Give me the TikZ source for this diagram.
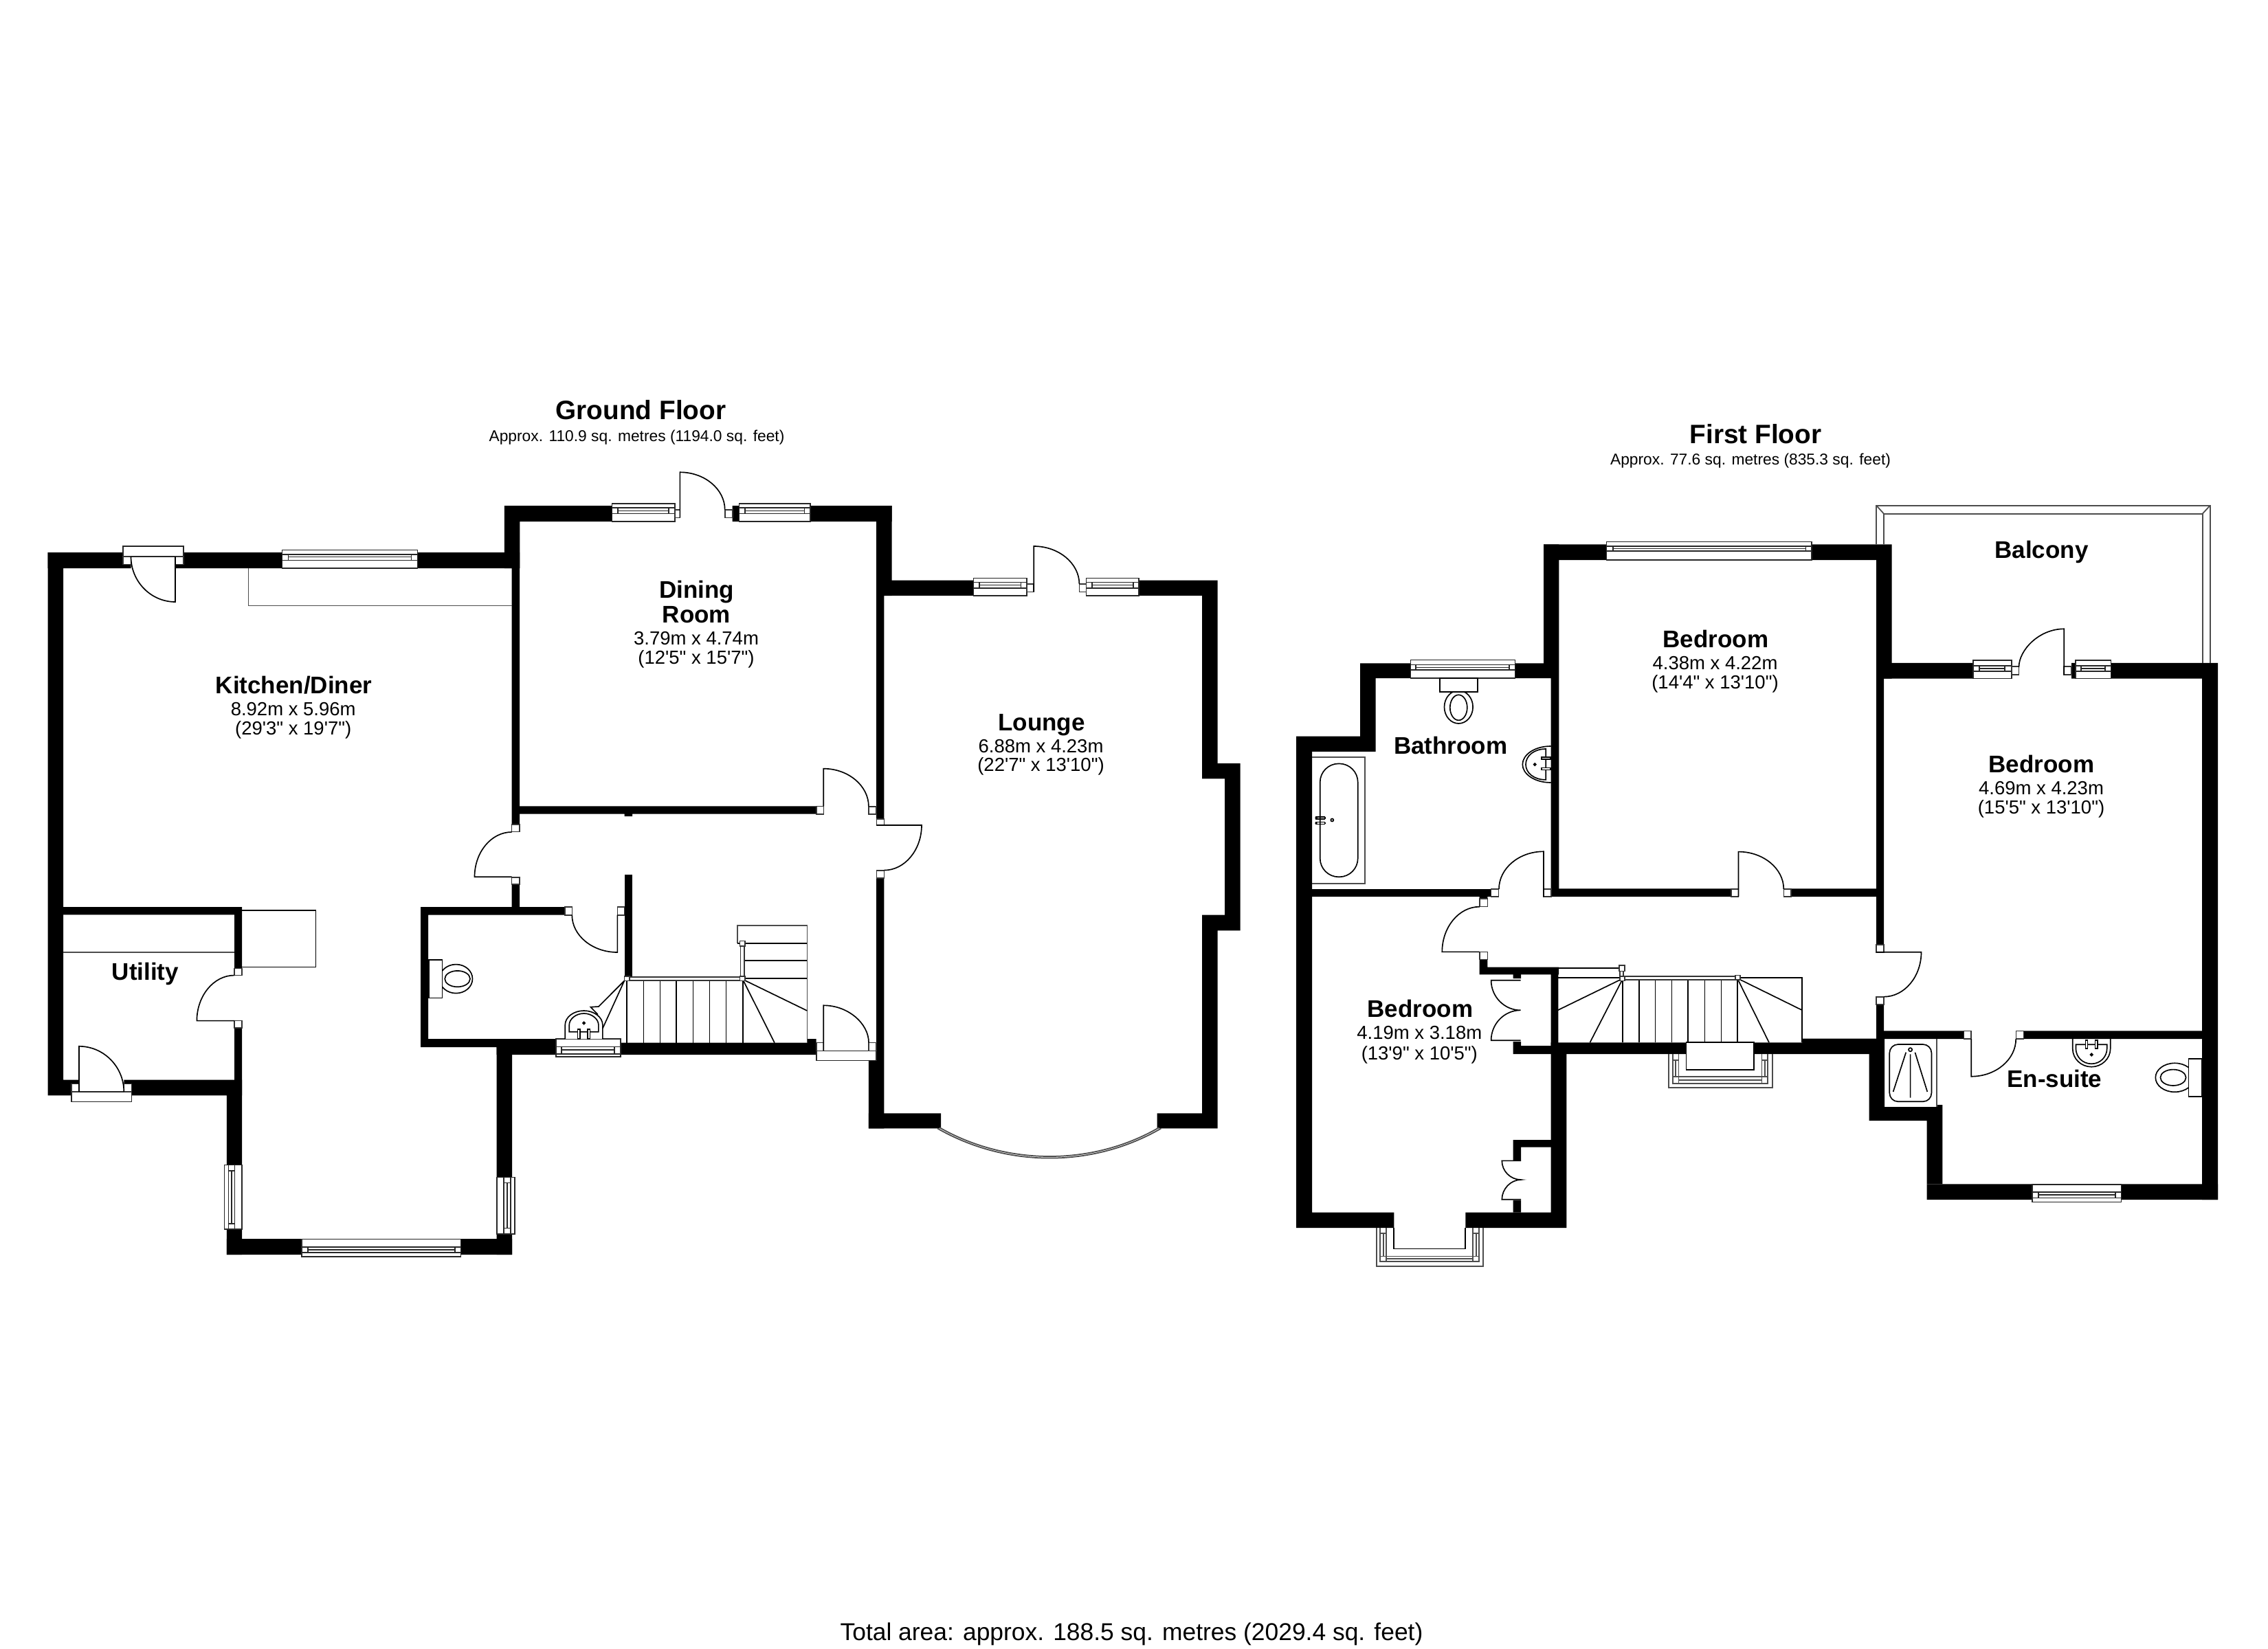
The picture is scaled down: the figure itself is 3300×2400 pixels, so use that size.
\documentclass[tikz,border=0pt]{standalone}
\usepackage{fontspec}
\newfontfamily\planfont{Liberation Sans}
\tikzset{
	wall/.style={fill=black,draw=none},
	jamb/.style={fill=white,draw=black!80,line width=0.38pt},
	glazing/.style={fill=white,draw=black!85,line width=0.38pt},
	leaf/.style={draw=black,line width=0.4pt},
	fitting/.style={fill=white,draw=black,line width=0.4pt},
	outline/.style={draw=black!70,line width=0.42pt},
	roomname/.style={anchor=base,inner sep=0pt,font=\planfont\fontsize{8.4}{10}\selectfont\bfseries},
	roomsize/.style={anchor=base,inner sep=0pt,font=\planfont\fontsize{6.6}{8}\selectfont},
	floorname/.style={anchor=base,inner sep=0pt,font=\planfont\fontsize{9.3}{11}\selectfont\bfseries},
	floorarea/.style={anchor=base,inner sep=0pt,font=\planfont\fontsize{5.47}{7}\selectfont},
	totalarea/.style={anchor=base,inner sep=0pt,font=\planfont\fontsize{8.5}{10}\selectfont}
}
\begin{document}
\begin{tikzpicture}[x=0.24pt,y=0.24pt,yscale=-1,xscale=1]
	\useasboundingbox (0,0) rectangle (3300,2400);

	%Ground floor: walls
	\fill [wall] (69.6,804) rectangle (190.5,827) (255,804) rectangle (410.4,827) (607.3,804) rectangle (756,827);
	\fill [wall] (69.6,804) rectangle (92,1594.4) (92,1571.5) rectangle (115,1594.4);
	\fill [wall] (733.9,736) rectangle (890.6,759) (733.9,736) rectangle (756.3,827);
	\fill [wall] (1178.8,736) rectangle (1297.6,759) (1065.7,736) rectangle (1075.5,759);
	\fill [wall] (744.6,827) rectangle (756,1200) (744.6,1286.8) rectangle (756,1320);
	\fill [wall] (756,1173.3) rectangle (1188.2,1184.7) (908.5,1184.7) rectangle (920,1188);
	\fill [wall] (908.5,1273.3) rectangle (920,1421);
	\fill [wall] (92,1320) rectangle (352.2,1331.4) (341,1320) rectangle (352.2,1409.4) (341,1496) rectangle (352.2,1594.4);
	\fill [wall] (180.3,1571.5) rectangle (352.2,1594.4) (329.8,1594.4) rectangle (352.2,1695.4) (329.8,1789) rectangle (352.2,1826);
	\fill [wall] (329.8,1803) rectangle (439,1826) (670.6,1803) rectangle (745,1826);
	\fill [wall] (722.7,1512) rectangle (745,1713.4) (722.7,1796) rectangle (745,1826);
	\fill [wall] (612,1320) rectangle (821.8,1331.7) (612,1320) rectangle (623,1524) (612,1512) rectangle (809,1524) (722.6,1512) rectangle (809,1535);
	\fill [wall] (903,1517.7) rectangle (1187.7,1535) (1174,1512) rectangle (1187.7,1517.7);
	\fill [wall] (1275,736) rectangle (1297.6,867) (1275,867) rectangle (1286.4,1191.7) (1275,1278) rectangle (1286.4,1543) (1263.8,1543) rectangle (1286.4,1642.4);
	\fill [wall] (1286,844.7) rectangle (1416.5,866.8) (1263.8,1620.3) rectangle (1369,1642.4);
	\fill [wall] (1656.9,844.7) -- (1771.7,844.7) -- (1771.7,1111.2) -- (1804.6,1111.2) -- (1804.6,1354.4) -- (1771.7,1354.4) -- (1771.7,1642.4) -- (1683.6,1642.4) -- (1683.6,1620.3) -- (1749,1620.3) -- (1749,1331.6) -- (1782,1331.6) -- (1782,1133.4) -- (1749,1133.4) -- (1749,866.8) -- (1656.9,866.8) -- cycle;

	%Ground floor: windows
	\draw [glazing] (410.4,800.3) rectangle (607.3,826.8) (410.4,806.8) -- (607.3,806.8) (410.4,815.3) -- (607.3,815.3) (419.6,806.8) -- (419.6,815.3) (598.7,806.8) -- (598.7,815.3) (419.6,810.5) -- (598.7,810.5);
	\draw [glazing] (326.7,1695.4) rectangle (352.2,1789.1) (332.3,1695.4) -- (332.3,1789.1) (341.5,1695.4) -- (341.5,1789.1) (332.3,1703.7) -- (341.5,1703.7) (332.3,1780.8) -- (341.5,1780.8) (337,1703.7) -- (337,1780.8);
	\draw [glazing] (439,1803.4) rectangle (670.6,1829) (439,1815) -- (670.6,1815) (439,1823) -- (670.6,1823) (448,1815) -- (448,1823) (662,1815) -- (662,1823) (448,1819) -- (662,1819);
	\draw [glazing] (722.7,1713.4) rectangle (748.7,1796) (732.8,1713.4) -- (732.8,1796) (743,1713.4) -- (743,1796) (732.8,1721.6) -- (743,1721.6) (732.8,1787.3) -- (743,1787.3) (738,1721.6) -- (738,1787.3);
	\draw [glazing] (809,1512) rectangle (903,1538) (809,1523.3) -- (903,1523.3) (809,1534) -- (903,1534) (817.2,1523.3) -- (817.2,1534) (893.8,1523.3) -- (893.8,1534) (817.2,1528) -- (893.8,1528);
	\draw [glazing] (890.6,733) rectangle (982,759) (890.6,739) -- (982,739) (890.6,747.7) -- (982,747.7) (899.2,739) -- (899.2,747.7) (973,739) -- (973,747.7) (899.2,743.3) -- (973,743.3);
	\draw [glazing] (1075.5,733) rectangle (1178.8,759) (1075.5,739) -- (1178.8,739) (1075.5,747.7) -- (1178.8,747.7) (1084,739) -- (1084,747.7) (1170.6,739) -- (1170.6,747.7) (1084,743.3) -- (1170.6,743.3);
	\draw [glazing] (1416.5,841.3) rectangle (1493.8,866.8) (1416.5,847.4) -- (1493.8,847.4) (1416.5,856) -- (1493.8,856) (1425,847.4) -- (1425,856) (1485.4,847.4) -- (1485.4,856) (1425,851.5) -- (1485.4,851.5);
	\draw [glazing] (1580.3,841.3) rectangle (1656.9,866.8) (1580.3,847.4) -- (1656.9,847.4) (1580.3,856) -- (1656.9,856) (1589,847.4) -- (1589,856) (1648.8,847.4) -- (1648.8,856) (1589,851.5) -- (1648.8,851.5);
	%Curve Lines: bow window
	\draw [outline] (1364,1642.4) .. controls (1465,1700) and (1590,1700) .. (1689.4,1642.4);
	\draw [outline] (1367,1641) .. controls (1465,1697) and (1590,1697) .. (1686.4,1641);

	%Ground floor: doors
	\draw [glazing] (179,795) rectangle (267,810);
	\draw [jamb] (179,810) rectangle (190.5,821.4);
	\draw [jamb] (255,810) rectangle (267,821.4);
	\draw [leaf] (255,810) -- (255,876) .. controls (219.5,876) and (190.5,846.3) .. (190.5,810);
	\draw [jamb] (341,1409.4) rectangle (352.2,1419.5);
	\draw [jamb] (341,1485.6) rectangle (352.2,1496.2);
	\draw [leaf] (341,1419.5) .. controls (311,1419.5) and (286.4,1449.3) .. (286.4,1485.6) -- (341,1485.6);
	\draw [glazing] (103.8,1589) rectangle (191.5,1603.6);
	\draw [jamb] (103.8,1577.5) rectangle (115,1589);
	\draw [jamb] (180.3,1577.5) rectangle (191.5,1589);
	\draw [leaf] (115,1589) -- (115,1522.8) .. controls (150.9,1522.8) and (180.3,1552.6) .. (180.3,1589);
	\draw [jamb] (744.6,1200) rectangle (756,1210.6);
	\draw [jamb] (744.6,1276.7) rectangle (756,1286.8);
	\draw [leaf] (744.6,1211) .. controls (714.8,1211) and (690.5,1240.3) .. (690.5,1276.3) -- (744.6,1276.3);
	\draw [jamb] (821.8,1320) rectangle (832.3,1331.7);
	\draw [jamb] (898.4,1320) rectangle (908.5,1331.7);
	\draw [leaf] (832.3,1331.7) .. controls (832.3,1361.6) and (862,1386) .. (898.4,1386) -- (898.4,1331.7);
	\draw [jamb] (1188.2,1173.3) rectangle (1198.3,1184.7);
	\draw [jamb] (1264,1173.7) rectangle (1275,1184.7);
	\draw [leaf] (1198.3,1173.3) -- (1198.3,1118.7) .. controls (1234.4,1118.7) and (1263.9,1143.8) .. (1263.9,1173.7);
	\draw [jamb] (1275.3,1191.7) rectangle (1286.4,1201);
	\draw [jamb] (1275.3,1267) rectangle (1286.4,1278);
	\draw [leaf] (1275.3,1201) -- (1341,1201) .. controls (1341,1237) and (1316.4,1266.6) .. (1286.4,1266.6);
	\draw [glazing] (1187.7,1529.3) rectangle (1275,1543.3);
	\draw [jamb] (1187.7,1517.3) rectangle (1198.3,1529.3);
	\draw [jamb] (1264,1517.3) rectangle (1275,1529.3);
	\draw [leaf] (1198.3,1529.3) -- (1198.3,1463.3) .. controls (1234.4,1463.3) and (1264,1490) .. (1264,1517.3);
	\draw [jamb] (982,742) rectangle (989.4,753.3);
	\draw [jamb] (1054.7,742) rectangle (1065.7,753.3);
	\draw [leaf] (989.4,753.3) -- (989.4,687.3) .. controls (1025.3,687.3) and (1054.7,712) .. (1054.7,742);
	\draw [jamb] (1493.8,850) rectangle (1504.2,861.4);
	\draw [jamb] (1570.4,850) rectangle (1580.3,861.4);
	\draw [leaf] (1504.2,861.4) -- (1504.2,795) .. controls (1540.6,795) and (1570.4,820) .. (1570.4,850);

	%Ground floor: fitted units
	\draw [outline] (361.4,827) -- (361.4,881.5) -- (744.6,881.5);
	\draw [outline] (92,1386) -- (341,1386);
	\draw [leaf] (352.2,1325) -- (459.4,1325) -- (459.4,1407.6) -- (352.2,1407.6);

	%Ground floor: stairs
	\draw [leaf] (912.2,1426.7) -- (912.2,1517.7) (936.5,1426.7) -- (936.5,1517.7) (960.4,1426.7) -- (960.4,1517.7) (984.3,1426.7) -- (984.3,1517.7) (1008.6,1426.7) -- (1008.6,1517.7) (1032.5,1426.7) -- (1032.5,1517.7) (1056.4,1426.7) -- (1056.4,1517.7) (1080.7,1426.7) -- (1080.7,1517.7);
	\draw [outline] (1073,1372.7) -- (1073,1346.7) -- (1174.4,1346.7) -- (1174.4,1517.7);
	\draw [leaf] (1073,1372.7) -- (1174.4,1372.7) (1083,1398.3) -- (1174.4,1398.3) (1083,1423.7) -- (1174.4,1423.7);
	\draw [leaf] (1084,1427) -- (1174.4,1471) (1082,1428) -- (1127,1517.7);
	\draw [leaf] (908.5,1427.3) -- (871,1465) -- (859.4,1465.7) -- (870,1476.7) (908.5,1427.3) -- (876.9,1496.7);
	\draw [jamb] (912,1421.7) rectangle (1080,1426.7);
	\draw [jamb] (1077.5,1376) rectangle (1083,1421.7);
	\draw [jamb] (908.5,1421) rectangle (916,1427.3);
	\draw [jamb] (1076.6,1421) rectangle (1084,1427.3);
	\draw [jamb] (1076.6,1369.3) rectangle (1084,1376.7);

	%Ground floor: cloakroom
	\draw [fitting] (663.5,1424.6) ellipse [x radius=24,y radius=21];
	\draw [fitting] (665.6,1424.6) ellipse [x radius=18.4,y radius=11.7];
	\draw [fitting] (623.7,1397) rectangle (643.6,1452.6);
	\draw [fitting] (822.2,1512) -- (822.2,1492) .. controls (822.2,1480) and (835,1471) .. (849.6,1471) .. controls (864,1471) and (876.9,1480) .. (876.9,1492) -- (876.9,1512);
	\draw [leaf] (828.2,1501.7) -- (828.2,1492) .. controls (828.2,1483) and (838,1475) .. (849.6,1475) .. controls (861,1475) and (870.9,1483) .. (870.9,1492) -- (870.9,1501.7) -- cycle;
	\draw [fitting] (840.6,1498) rectangle (844.3,1511.7);
	\draw [fitting] (854.8,1498) rectangle (858.5,1511.7);
	\draw [leaf] (849.6,1489) circle [radius=1.6];

	%First floor: walls
	\fill [wall] (1979,965.3) -- (2052.3,965.3) -- (2052.3,987) -- (2001.7,987) -- (2001.7,1093.8) -- (1909,1093.8) -- (1909,1764.5) -- (2028.3,1764.5) -- (2028.3,1787) -- (1886,1787) -- (1886,1071.5) -- (1979,1071.5) -- cycle;
	\fill [wall] (2132.3,1764.5) rectangle (2279.3,1787) (2256.7,1522) rectangle (2279.3,1787);
	\fill [wall] (2201.7,1522) rectangle (2279.3,1534) (2201.7,1516) rectangle (2213,1534) (2201.7,1418) rectangle (2213,1424);
	\fill [wall] (2256.7,1407.7) rectangle (2267.4,1525) (2152.7,1396) rectangle (2164.3,1418.3) (2152.7,1407.7) rectangle (2268,1418.3);
	\fill [wall] (1909,1294) rectangle (2169.3,1305) (2152.7,1305) rectangle (2164.3,1308);
	\fill [wall] (2201.7,1659) rectangle (2257,1669.5) (2201.7,1669.5) rectangle (2213,1689.4) (2201.7,1747) rectangle (2213,1764.5);
	\fill [wall] (2204.3,965.3) rectangle (2268.3,987) (2246,792.4) rectangle (2268.3,987) (2256.7,987) rectangle (2268.3,1305);
	\fill [wall] (2246,792.4) rectangle (2337.4,815) (2635.8,792.4) rectangle (2752.5,815) (2730.2,792.4) rectangle (2752.5,987.7);
	\fill [wall] (2730.2,964.8) rectangle (2871,987.7) (2730,987) rectangle (2741,1375) (2730,1461.7) rectangle (2741,1534);
	\fill [wall] (2268,1293.3) rectangle (2518.8,1305) (2605.8,1293.3) rectangle (2730,1305);
	\fill [wall] (2741,1500.3) rectangle (2857.5,1512) (2944.6,1500.3) rectangle (3204,1512);
	\fill [wall] (3014,964.8) rectangle (3020,987.7) (3071.4,964.8) rectangle (3227,987.7) (3204,964.8) rectangle (3227,1746);
	\fill [wall] (2803.6,1723.3) rectangle (2956.8,1746) (3086.4,1723.3) rectangle (3227,1746);
	\fill [wall] (2719.6,1512) -- (2742,1512) -- (2742,1611) -- (2817.9,1611) -- (2817.9,1608) -- (2826.4,1608) -- (2826.4,1723.3) -- (2803.6,1723.3) -- (2803.6,1631) -- (2719.6,1631) -- cycle;
	\fill [wall] (2256.7,1517.3) rectangle (2453.6,1534) (2552.2,1517.3) rectangle (2622.3,1534) (2622.3,1511.7) rectangle (2741,1534);

	%First floor: balcony
	\draw [outline] (2730.2,792.4) -- (2730.2,735.8) -- (3215.6,735.8) -- (3215.6,964.8);
	\draw [outline] (2741,792.4) -- (2741,747.7) -- (3204.7,747.7) -- (3204.7,964.8);
	\draw [outline] (2730.2,735.8) -- (2741,747.7) (3215.6,735.8) -- (3204.7,747.7);

	%First floor: windows
	\draw [glazing] (2052.3,960.6) rectangle (2204.3,987) (2052.3,967.6) -- (2204.3,967.6) (2052.3,975.2) -- (2204.3,975.2) (2060,967.6) -- (2060,975.2) (2195.7,967.6) -- (2195.7,975.2) (2060,971.5) -- (2195.7,971.5);
	\draw [glazing] (2337.4,788.4) rectangle (2635.8,815) (2337.4,795) -- (2635.8,795) (2337.4,802) -- (2635.8,802) (2347,795) -- (2347,802) (2627.5,795) -- (2627.5,802) (2347,798.5) -- (2627.5,798.5);
	\draw [glazing] (2871,961.2) rectangle (2926.7,987.7) (2871,969) -- (2926.7,969) (2871,977) -- (2926.7,977) (2880,969) -- (2880,977) (2917,969) -- (2917,977) (2880,973) -- (2917,973);
	\draw [glazing] (3020,961.2) rectangle (3071.4,987.7) (3020,969) -- (3071.4,969) (3020,977) -- (3071.4,977) (3028,969) -- (3028,977) (3063,969) -- (3063,977) (3028,973) -- (3063,973);
	\draw [glazing] (2956.8,1724) rectangle (3086.4,1749.3) (2956.8,1734.7) -- (3086.4,1734.7) (2956.8,1743.3) -- (3086.4,1743.3) (2965.7,1734.7) -- (2965.7,1743.3) (3077.9,1734.7) -- (3077.9,1743.3) (2965.7,1739) -- (3077.9,1739);
	%Shape: bay on the bedroom
	\draw [outline] (2002.7,1787) -- (2002.7,1843) -- (2158.3,1843) -- (2158.3,1787);
	\draw [leaf] (2028.3,1787) -- (2028.3,1817.4) -- (2132.3,1817.4) -- (2132.3,1787);
	\draw [outline] (2008.3,1787) -- (2008.3,1836.2) -- (2152.3,1836.2) -- (2152.3,1787);
	\draw [outline] (2017.3,1787) -- (2017.3,1828.5) -- (2143.3,1828.5) -- (2143.3,1787);
	\draw [outline] (2008.3,1828.5) -- (2017.3,1828.5) -- (2017.3,1836.2) (2143.3,1836.2) -- (2143.3,1828.5) -- (2152.3,1828.5) (2017.3,1832.3) -- (2143.3,1832.3) (2012.8,1795) -- (2012.8,1828.5) (2147.8,1795) -- (2147.8,1828.5) (2008.3,1795) -- (2017.3,1795) (2143.3,1795) -- (2152.3,1795);
	%Shape: bay on the landing
	\draw [outline] (2427.7,1534) -- (2427.7,1582.7) -- (2578.6,1582.7) -- (2578.6,1534);
	\draw [leaf] (2453.6,1517.3) -- (2453.6,1557) -- (2552.2,1557) -- (2552.2,1517.3) -- cycle;
	\draw [outline] (2434,1534) -- (2434,1576.7) -- (2572.3,1576.7) -- (2572.3,1534);
	\draw [outline] (2442.4,1534) -- (2442.4,1567.3) -- (2563.4,1567.3) -- (2563.4,1534);
	\draw [outline] (2434,1567.3) -- (2442.4,1567.3) -- (2442.4,1576.7) (2563.4,1576.7) -- (2563.4,1567.3) -- (2572.3,1567.3) (2442.4,1572) -- (2563.4,1572) (2438.2,1543) -- (2438.2,1567.3) (2567.8,1543) -- (2567.8,1567.3) (2434,1543) -- (2442.4,1543) (2563.4,1543) -- (2572.3,1543);

	%First floor: doors
	\draw [jamb] (2169.6,1294) rectangle (2180.4,1305);
	\draw [jamb] (2246,1294) rectangle (2257,1305);
	\draw [leaf] (2246,1305) -- (2246,1239.3) .. controls (2210,1239.3) and (2181,1264) .. (2181,1294);
	\draw [jamb] (2152.7,1308) rectangle (2164.3,1319.5);
	\draw [jamb] (2152.7,1385.4) rectangle (2164.3,1396.5);
	\draw [leaf] (2152.7,1319.7) .. controls (2122.8,1319.7) and (2098.3,1349.3) .. (2098.3,1385.4) -- (2152.7,1385.4);
	\draw [leaf] (2212.5,1426.7) -- (2169.6,1426.7) .. controls (2169.6,1450.7) and (2188.9,1470.3) .. (2212.5,1470.3) .. controls (2188.9,1470.3) and (2169.6,1490) .. (2169.6,1514.3) -- (2212.5,1514.3);
	\draw [leaf] (2213,1689.4) -- (2185.3,1689.4) .. controls (2185.3,1704.6) and (2198,1717) .. (2213,1717) .. controls (2198,1717) and (2185.3,1730.5) .. (2185.3,1745.8) -- (2213,1745.8);
	\draw [jamb] (2518.8,1294) rectangle (2529.4,1305);
	\draw [jamb] (2595.3,1294) rectangle (2605.8,1305);
	\draw [leaf] (2529.4,1305) -- (2529.4,1239.6) .. controls (2565.4,1239.6) and (2595.3,1264) .. (2595.3,1294);
	\draw [jamb] (2730,1375) rectangle (2741,1385.7);
	\draw [jamb] (2730,1451) rectangle (2741,1461.7);
	\draw [leaf] (2730,1385.7) -- (2795.5,1385.7) .. controls (2795.5,1421.4) and (2771,1450.7) .. (2741,1450.7);
	\draw [jamb] (2926.7,970) rectangle (2937.5,981.8);
	\draw [jamb] (3003.2,970) rectangle (3014,981.8);
	\draw [leaf] (3003.2,981.8) -- (3003.2,915.3) .. controls (2967,915.3) and (2937.5,946) .. (2937.5,971);
	\draw [jamb] (2857.5,1500.3) rectangle (2868.2,1512);
	\draw [jamb] (2933.6,1500.3) rectangle (2944.6,1512);
	\draw [leaf] (2868.2,1512) -- (2868.2,1566.7) .. controls (2904,1566.7) and (2933.2,1542) .. (2933.2,1512);

	%First floor: stairs
	\draw [leaf] (2360.7,1425.7) -- (2360.7,1517.3) (2384.8,1425.7) -- (2384.8,1517.3) (2408.5,1425.7) -- (2408.5,1517.3) (2432.6,1425.7) -- (2432.6,1517.3) (2456.3,1425.7) -- (2456.3,1517.3) (2480.4,1425.7) -- (2480.4,1517.3) (2504.5,1425.7) -- (2504.5,1517.3) (2528.1,1425.7) -- (2528.1,1517.3);
	\draw [leaf] (2267.4,1409.3) -- (2355.8,1409.3) (2267.4,1423.3) -- (2358,1423.3) (2531.7,1423.3) -- (2622.3,1423.3) -- (2622.3,1517.3);
	\draw [leaf] (2358,1425.7) -- (2266.5,1470.3) (2360,1426.7) -- (2313.4,1517.3) (2531.7,1425.7) -- (2622.3,1470.3) (2529.5,1427.3) -- (2574,1517.3);
	\draw [jamb] (2363.4,1420.7) rectangle (2526.3,1425.7);
	\draw [jamb] (2357,1413.3) rectangle (2362,1421);
	\draw [jamb] (2355.8,1405) rectangle (2363.8,1413.3);
	\draw [jamb] (2357,1421) rectangle (2364,1427.3);
	\draw [jamb] (2525,1419.3) rectangle (2531.7,1426);

	%First floor: bathroom
	\draw [outline] (1909,1102) -- (1985.7,1102) -- (1985.7,1286.3) -- (1909,1286.3);
	\draw [leaf] [rounded corners=6.5pt] (1920.7,1111.4) rectangle (1975.7,1276.3);
	\draw [leaf] (1914,1188.9) -- (1927.7,1188.9) (1914,1192) -- (1927.7,1192) (1914,1196.5) -- (1927.7,1196.5) (1914,1199.4) -- (1927.7,1199.4) (1927.7,1188.9) -- (1927.7,1192) (1927.7,1196.5) -- (1927.7,1199.4);
	\fill (1915,1190.5) circle [radius=1.8] (1915,1198) circle [radius=1.8];
	\draw [leaf] (1938.3,1193.5) circle [radius=2];
	\draw [fitting] (2122.3,1029) ellipse [x radius=20.8,y radius=24];
	\draw [fitting] (2122.3,1029.8) ellipse [x radius=12.5,y radius=18.5];
	\draw [fitting] (2094.7,987) rectangle (2150,1007);
	\draw [leaf] (2256.7,1086) .. controls (2232,1086) and (2215.3,1099) .. (2215.3,1112.6) .. controls (2215.3,1126) and (2232,1139) .. (2256.7,1139);
	\draw [leaf] (2249.3,1090) .. controls (2232,1090) and (2220,1100) .. (2220,1112.6) .. controls (2220,1125) and (2232,1134.9) .. (2249.3,1134.9) -- cycle;
	\draw [fitting] (2243.3,1102.3) rectangle (2256,1105.3);
	\draw [fitting] (2243.3,1117.5) rectangle (2256,1120.5);
	\draw [leaf] (2233.3,1112.6) circle [radius=1.6];

	%First floor: en-suite
	\draw [outline] (2817.9,1512) -- (2817.9,1611);
	\draw [leaf] [rounded corners=3pt] (2749.3,1520) rectangle (2810.4,1603.3);
	\draw [leaf] (2779.6,1527.7) circle [radius=2.6];
	\draw [leaf] (2779.6,1534.3) -- (2779.6,1597.7) (2773.2,1531.7) -- (2754.6,1589) (2786.4,1531.7) -- (2804.3,1589);
	\draw [leaf] (3015.7,1512) -- (3015.7,1526) .. controls (3015.7,1541) and (3028,1552.7) .. (3043.2,1552.7) .. controls (3058,1552.7) and (3070.7,1541) .. (3070.7,1526) -- (3070.7,1512);
	\draw [leaf] (3020.4,1520.3) -- (3020.4,1526) .. controls (3020.4,1538) and (3030,1548.3) .. (3043.2,1548.3) .. controls (3056,1548.3) and (3065.7,1538) .. (3065.7,1526) -- (3065.7,1520.3) -- cycle;
	\draw [fitting] (3034.3,1514) rectangle (3037.5,1526);
	\draw [fitting] (3048.6,1514) rectangle (3051.8,1526);
	\draw [leaf] (3043.2,1535) circle [radius=1.6];
	\draw [fitting] (3164.3,1568.3) ellipse [x radius=28,y radius=21];
	\draw [fitting] (3162,1568.3) ellipse [x radius=18.6,y radius=11.7];
	\draw [fitting] (3184.3,1541) rectangle (3204,1596.3);

	% Text Node
	\node [floorname] (groundtitle) at (932.5,610.7) {Ground Floor};
	\node [floorarea] (groundarea) at (926.5,642.3) {Approx. 110.9 sq. metres (1194.0 sq. feet)};
	\node [floorname] (firsttitle) at (2554.5,645.7) {First Floor};
	\node [floorarea] (firstarea) at (2547,676.7) {Approx. 77.6 sq. metres (835.3 sq. feet)};
	\node [roomname] (kitchenname) at (427.5,1009.5) {Kitchen/Diner};
	\node [roomsize] (kitchenmetric) at (426.7,1041.5) {8.92m x 5.96m};
	\node [roomsize] (kitchenimperial) at (426.7,1069.4) {(29'3" x 19'7")};
	\node [roomname] (diningname) at (1013.5,870.5) {Dining};
	\node [roomname] (diningsecond) at (1013.5,906) {Room};
	\node [roomsize] (diningmetric) at (1013,938) {3.79m x 4.74m};
	\node [roomsize] (diningimperial) at (1013,966) {(12'5" x 15'7")};
	\node [roomname] (loungename) at (1515.5,1063.5) {Lounge};
	\node [roomsize] (loungemetric) at (1514.5,1095) {6.88m x 4.23m};
	\node [roomsize] (loungeimperial) at (1514.5,1122) {(22'7" x 13'10")};
	\node [roomname] (utilityname) at (211.4,1426.5) {Utility};
	\node [roomname] (bathroomname) at (2110.7,1097) {Bathroom};
	\node [roomname] (frontbedname) at (2066.3,1480.5) {Bedroom};
	\node [roomsize] (frontbedmetric) at (2065.3,1512) {4.19m x 3.18m};
	\node [roomsize] (frontbedimperial) at (2065.3,1542.8) {(13'9" x 10'5")};
	\node [roomname] (rearbedname) at (2496.5,942.8) {Bedroom};
	\node [roomsize] (rearbedmetric) at (2495.5,974.8) {4.38m x 4.22m};
	\node [roomsize] (rearbedimperial) at (2495.5,1002) {(14'4" x 13'10")};
	\node [roomname] (balconyname) at (2970.5,812.4) {Balcony};
	\node [roomname] (mainbedname) at (2970.5,1124) {Bedroom};
	\node [roomsize] (mainbedmetric) at (2970,1156) {4.69m x 4.23m};
	\node [roomsize] (mainbedimperial) at (2970,1184) {(15'5" x 13'10")};
	\node [roomname] (ensuitename) at (2989.3,1582) {En-suite};
	\node [totalarea] (totalline) at (1646.5,2387) {Total area: approx. 188.5 sq. metres (2029.4 sq. feet)};

\end{tikzpicture}
\end{document}
